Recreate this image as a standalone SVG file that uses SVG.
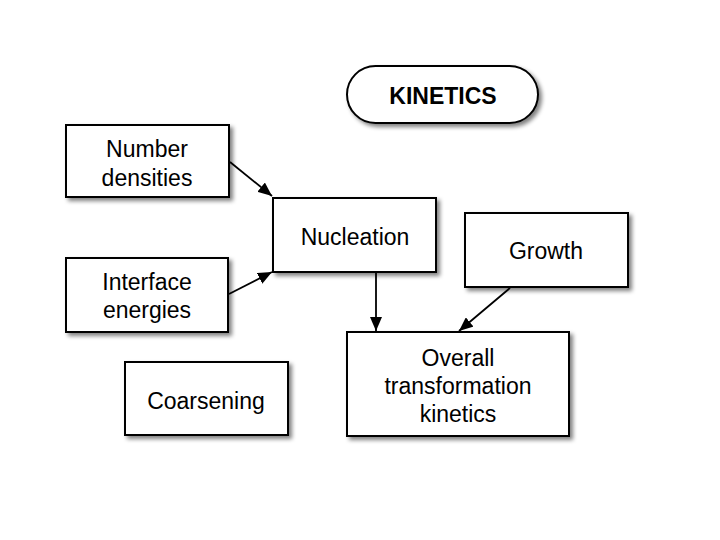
<svg xmlns="http://www.w3.org/2000/svg" width="720" height="540" viewBox="0 0 720 540">
<style>
.box{fill:#fff;stroke:#000;stroke-width:2}
.t{font-family:"Liberation Sans",Arial,sans-serif;font-size:23px;fill:#000;text-anchor:middle}
.tb{font-family:"Liberation Sans",Arial,sans-serif;font-size:23px;font-weight:bold;fill:#000;text-anchor:middle}
.c{stroke:#000;stroke-width:1.8;fill:none;marker-end:url(#ah)}
</style>
<defs>
<filter id="sh" x="-10%" y="-10%" width="130%" height="140%">
<feGaussianBlur in="SourceAlpha" stdDeviation="2"/>
<feOffset dx="3" dy="3" result="b"/>
<feComponentTransfer><feFuncA type="linear" slope="0.5"/></feComponentTransfer>
<feMerge><feMergeNode/><feMergeNode in="SourceGraphic"/></feMerge>
</filter>
<marker id="ah" viewBox="0 0 14 12" refX="14" refY="6" markerWidth="14" markerHeight="12" markerUnits="userSpaceOnUse" orient="auto">
<path d="M0,0 L14,6 L0,12 z" fill="#000"/>
</marker>
</defs>
<rect width="720" height="540" fill="#fff"/>
<g id="kinetics"><rect class="box" x="347" y="66" width="191" height="57" rx="28.5" filter="url(#sh)"/><text class="tb" x="443" y="104">KINETICS</text></g>
<g id="number-densities"><rect class="box" x="66" y="125" width="163" height="72" filter="url(#sh)"/><text class="t" x="147" y="157">Number</text><text class="t" x="147" y="186">densities</text></g>
<g id="nucleation"><rect class="box" x="273" y="198" width="163" height="74" filter="url(#sh)"/><text class="t" x="355" y="245">Nucleation</text></g>
<g id="interface-energies"><rect class="box" x="66" y="258" width="162" height="74" filter="url(#sh)"/><text class="t" x="147" y="290">Interface</text><text class="t" x="147" y="318">energies</text></g>
<g id="coarsening"><rect class="box" x="125" y="362" width="163" height="73" filter="url(#sh)"/><text class="t" x="206" y="409">Coarsening</text></g>
<g id="growth"><rect class="box" x="465" y="213" width="163" height="74" filter="url(#sh)"/><text class="t" x="546" y="259">Growth</text></g>
<g id="overall"><rect class="box" x="347" y="332" width="222" height="104" filter="url(#sh)"/><text class="t" x="458" y="366">Overall</text><text class="t" x="458" y="394">transformation</text><text class="t" x="458" y="422">kinetics</text></g>
<g id="connectors">
<line class="c" x1="230" y1="162" x2="272" y2="196"/>
<line class="c" x1="229" y1="294" x2="272" y2="272"/>
<line class="c" x1="376" y1="273" x2="376" y2="331"/>
<line class="c" x1="510" y1="288" x2="459" y2="331"/>
</g>
</svg>
